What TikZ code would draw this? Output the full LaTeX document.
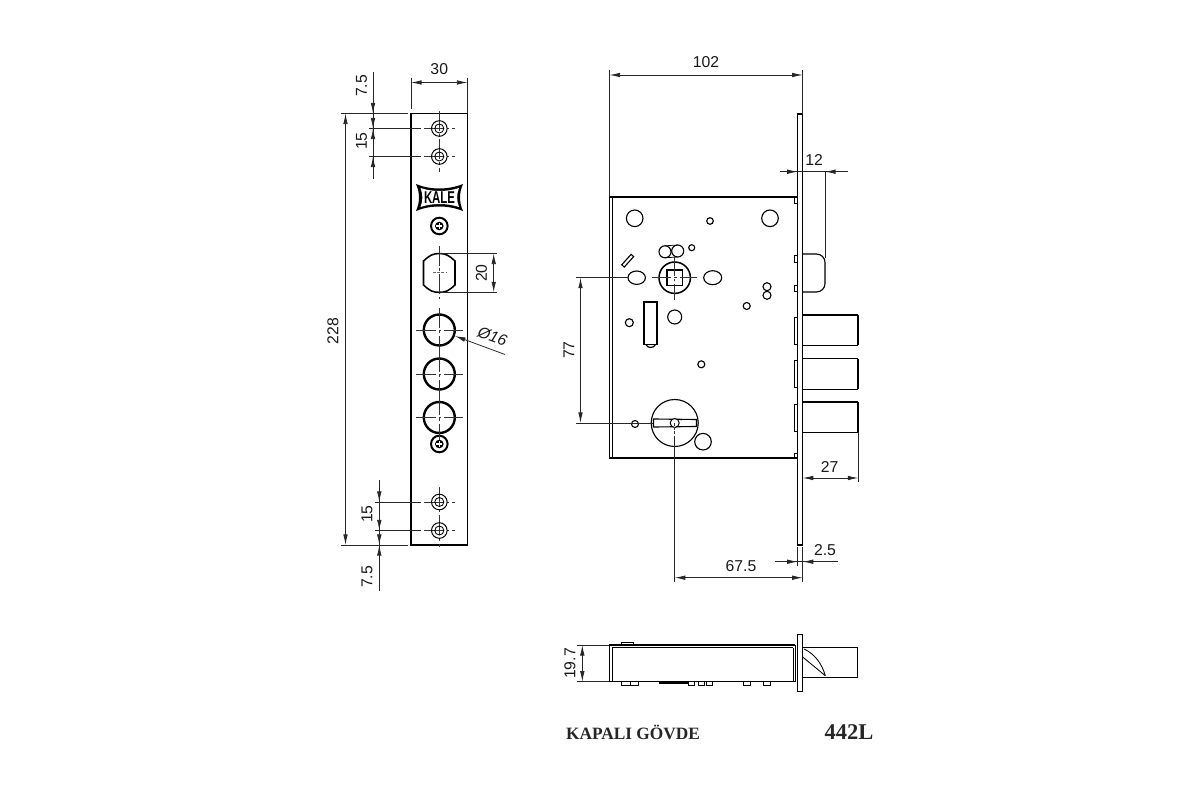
\documentclass[tikz,border=0pt]{standalone}
\usepackage{fontspec}
\setmainfont{Liberation Sans}
\newfontfamily\titlefont{Liberation Serif}
\usetikzlibrary{arrows.meta}
\tikzset{
  dimline/.style={line width=0.55pt,black!85,{Latex[length=7.5pt,width=3.2pt]}-{Latex[length=7.5pt,width=3.2pt]}},
  tipend/.style={line width=0.55pt,black!85,-{Latex[length=7.5pt,width=3.2pt]}},
  extline/.style={line width=0.5pt,black!85},
  centerline/.style={line width=0.4pt,black!80,dash pattern=on 14pt off 2pt on 2pt off 2pt},
  outline/.style={line width=0.8pt,black},
  heavy/.style={line width=1.4pt,black},
  dimtext/.style={font=\fontsize{11.2}{13}\selectfont,inner sep=0pt,text=black!90},
}
\begin{document}
\begin{tikzpicture}[x=0.025cm,y=-0.025cm]
\useasboundingbox (0,0) rectangle (1200,800);

% front plate
\draw[outline] (411,113.5) rectangle (467.5,545);
\draw[extline] (411,78) -- (411,109);
\draw[extline] (467.5,78) -- (467.5,113);
\draw[dimline] (411,82.5) -- (467.5,82.5) node[midway,above=5pt,dimtext] (labwidth) {30};
\draw[extline] (341,113.5) -- (408,113.5);
\draw[extline] (341,545) -- (408,545);
\draw[dimline] (345.5,113.5) -- (345.5,545);
\node[dimtext,rotate=90] (labheight) at (333,331) {228};

% top holes
\foreach \y in {128.5,156.5}
{
\draw[extline] (369,\y) -- (421,\y);
\draw[centerline] (424,\y) -- (455,\y);
\draw[centerline] (439.3,\y-17) -- (439.3,\y+16);
\draw[line width=0.7pt] (439.3,\y) circle (7.8);
\draw[line width=0.6pt] (439.3,\y) circle (4.5);
}
\draw[extline] (373,72) -- (373,179);
\draw[tipend] (373,95) -- (373,113.5);
\draw[tipend] (373,113) -- (373,128.5);
\draw[tipend] (373,145) -- (373,128.5);
\draw[tipend] (373,172) -- (373,156.5);
\node[dimtext,rotate=90] (labtopa) at (361.5,86) {7.5};
\node[dimtext,rotate=90] (labtopb) at (361.5,141) {15};

% bottom holes
\foreach \y in {502,530.5}
{
\draw[extline] (375,\y) -- (421,\y);
\draw[centerline] (424,\y) -- (455,\y);
\draw[centerline] (439.3,\y-15) -- (439.3,\y+16);
\draw[line width=0.7pt] (439.3,\y) circle (7.8);
\draw[line width=0.6pt] (439.3,\y) circle (4.5);
}
\draw[extline] (379.3,480) -- (379.3,590.5);
\draw[tipend] (379.3,486) -- (379.3,502);
\draw[tipend] (379.3,514) -- (379.3,530.5);
\draw[tipend] (379.3,532) -- (379.3,545);
\draw[tipend] (379.3,562) -- (379.3,545);
\node[dimtext,rotate=90] (labbota) at (367,514) {15};
\node[dimtext,rotate=90] (labbotb) at (367,577) {7.5};

% logo
\fill[black] (416,184) .. controls (430,190) and (448,190) .. (463,184)
  .. controls (459,193) and (459,202) .. (463,211)
  .. controls (448,205) and (430,205) .. (416,211)
  .. controls (420,202) and (420,193) .. cycle;
\fill[white] (420.5,188) .. controls (432,192) and (447,192) .. (459,188)
  .. controls (456.5,194) and (456.5,201) .. (459,207)
  .. controls (447,203) and (432,203) .. (420.5,207)
  .. controls (423,201) and (423,194) .. cycle;
\node[inner sep=0pt,font=\fontsize{9}{9}\selectfont\bfseries] (logotext) at (439.5,197.5) {\scalebox{0.9}[1.35]{KALE}};

% screws
\foreach \y in {226,444}
{
\draw[line width=1.4pt] (439.3,\y) circle (8.3);
\fill[black] (439.3,\y) circle (4.3);
\draw[white,line width=0.9pt] (436.3,\y) -- (442.3,\y) (439.3,\y-3) -- (439.3,\y+3);
}

% cylinder hole
\draw[heavy,line width=1.1pt] (423.5,261) .. controls (426,258.5) and (429,256.2) .. (431.5,255)
  .. controls (436,253) and (442.5,253) .. (447,255)
  .. controls (449.5,256.2) and (452.5,258.5) .. (455,261) -- (455,285)
  .. controls (452.5,287.5) and (449.5,289.7) .. (447,291)
  .. controls (442.5,292.8) and (436,292.8) .. (431.5,291)
  .. controls (429,289.7) and (426,287.5) .. (423.5,285) -- cycle;
\draw[centerline] (439.3,246) -- (439.3,300);
\draw[line width=0.3pt,black!60,dash pattern=on 2pt off 1pt] (433,272.5) -- (446,272.5);
\draw[extline] (439.3,253.5) -- (497,253.5);
\draw[extline] (439.3,292.3) -- (497,292.3);
\draw[dimline] (493.7,253.5) -- (493.7,292.3);
\node[dimtext,rotate=90] (labcyl) at (481.5,273) {20};

% round holes
\foreach \y in {330,374,417.5}
{
\draw[heavy,line width=1.7pt] (439.3,\y) circle (15.5);
\draw[centerline] (416,\y) -- (462.5,\y);
\draw[centerline] (439.3,\y-22) -- (439.3,\y+22);
}
\draw[tipend] (505,354.5) -- (455,336);
\node[dimtext,rotate=-20,font=\fontsize{11.2}{13}\selectfont\itshape] (labdia) at (492.5,336) {Ø16};

% side view, case
\draw[outline,line width=1.1pt] (609.5,196.8) rectangle (797.7,458);
\draw[line width=0.8pt] (612.3,196.8) -- (612.3,458);
\draw[outline] (797.7,114) rectangle (802.7,545);
\foreach \a/\b in {197/203,255/262,285/291,453/458,317/344,360/387,404/431}
\draw[line width=0.6pt] (794.3,\a) rectangle (797.7,\b);

% bolts
\foreach \a/\b in {315/345.3,358.7/389.3,402/432.3}
{
\draw[outline] (858.3,\a) -- (802.7,\a) (802.7,\b) -- (858.3,\b);
\draw[heavy] (858.3,\a) -- (858.3,\b);
}
\draw[outline,rounded corners=6pt] (802.7,254) -- (825,254) -- (825,292) -- (802.7,292);

% holes of the case
\foreach \x/\y/\r in {634.7/218.3/8.3,770/218.3/8.3,710/221/3.3,691.7/247.7/3,629.3/322.7/4,674.7/317/7,746.7/306/3.5,701.3/364.3/3.5,635/424/3.5,703/441.7/8.3}
\draw[line width=0.8pt] (\x,\y) circle (\r);
\draw[line width=0.8pt] (665,251.8) circle (6);
\draw[line width=0.8pt] (677.7,251) circle (6);
\draw[line width=0.5pt] (665,245.8) -- (677.7,245) (665,257.8) -- (677.7,257);
\draw[line width=0.8pt] (767,286.7) circle (4);
\draw[line width=0.8pt] (767,295.3) circle (4);
\draw[line width=0.8pt,rotate around={48:(627.7,260.7)}] (620.7,259) rectangle (634.7,262.4);
\draw[line width=0.8pt] (636.7,277.7) ellipse (8.7 and 6.7);
\draw[line width=0.8pt] (712.7,277.7) ellipse (9 and 7);
\draw[line width=1.1pt] (674.7,277.7) circle (15.7);
\draw[line width=0.8pt] (667,270) rectangle (682.4,285.4);
\draw[line width=1.2pt] (644.3,301.7) rectangle (657.3,344.5);
\draw[line width=0.9pt] (646,344.5) .. controls (647,348.5) and (654,348.5) .. (655.5,344.5);
\draw[line width=0.8pt] (674.7,423) circle (23.5);
\draw[line width=0.8pt] (653.5,419) -- (696.5,419.5) -- (696.5,426.5) -- (653.5,427) -- cycle;
\fill[white] (674.7,423) circle (4.5);
\draw[line width=0.7pt] (674.7,423) circle (4.5);
\fill[black] (681,419.5) circle (1);

% side view, dimensions
\draw[extline] (609.5,70) -- (609.5,196.8);
\draw[extline] (802.7,70) -- (802.7,114);
\draw[dimline] (609.5,75) -- (802.7,75) node[midway,above=5pt,dimtext] (lablong) {102};
\draw[extline] (780,171.7) -- (847.7,171.7);
\draw[tipend] (782,171.7) -- (797.7,171.7);
\draw[tipend] (840,171.7) -- (825,171.7);
\draw[extline] (825,171.7) -- (825,258);
\node[dimtext] (lablatch) at (814,160.5) {12};
\draw[extline] (576,277.7) -- (628,277.7);
\draw[centerline] (651.7,277.7) -- (697,277.7);
\draw[centerline] (674.7,256) -- (674.7,300);
\draw[extline] (576,423) -- (653,423);
\draw[dimline] (580.5,277.7) -- (580.5,423);
\node[dimtext,rotate=90] (labcentre) at (569,350) {77};
\draw[centerline,dash pattern=on 2pt off 1pt] (674.7,423) -- (674.7,437);
\draw[extline] (674.7,437) -- (674.7,582);
\draw[extline] (802.7,547) -- (802.7,582);
\draw[dimline] (674.7,577.7) -- (802.7,577.7);
\node[dimtext] (labback) at (741,566) {67.5};
\draw[extline] (797.7,547) -- (797.7,566);
\draw[extline] (775,561.7) -- (838,561.7);
\draw[tipend] (782,561.7) -- (797.7,561.7);
\draw[tipend] (818,561.7) -- (802.7,561.7);
\node[dimtext] (labplate) at (825,550) {2.5};
\draw[extline] (858.3,432.3) -- (858.3,482);
\draw[dimline] (802.7,478) -- (858.3,478);
\node[dimtext] (labthrow) at (829.5,466.5) {27};

% bottom view
\draw[outline] (797.3,634.3) rectangle (802.3,691.7);
\draw[outline] (795,645) -- (609.3,645) -- (609.3,681.7) -- (795,681.7);
\draw[line width=0.5pt] (793,647.7) -- (612.7,647.7) -- (612.7,681.7);
\draw[line width=0.5pt] (793,647.7) -- (793,681.7);
\draw[line width=0.6pt] (795,645) -- (795,681.7);
\draw[outline] (802.3,647.7) -- (857.3,647.7) -- (857.3,677.3) -- (802.3,677.3);
\draw[line width=0.6pt] (804,649) .. controls (815,654) and (822,664) .. (825.3,675.7);
\draw[line width=0.6pt] (802.3,656.7) -- (825.3,675.7);
\draw[line width=0.5pt] (621.7,645) rectangle (633.3,642.3);
\foreach \a/\b in {621.7/630,630/638,688/694.3,698.3/704,706.7/712.7,743.3/750,763.3/770.7}
\draw[line width=0.5pt] (\a,681.7) rectangle (\b,685);
\draw[line width=1pt] (659,683) -- (688,683);
\draw[extline] (577,645) -- (609.3,645);
\draw[extline] (577,681.7) -- (609.3,681.7);
\draw[dimline] (582.3,645) -- (582.3,681.7);
\node[dimtext,rotate=90] (labdepth) at (570,663.5) {19.7};

% titles
\node[inner sep=0pt,font=\titlefont\fontsize{12.3}{14}\selectfont\bfseries,text=black!85] (titlecase) at (633,732.5) {KAPALI GÖVDE};
\node[inner sep=0pt,font=\titlefont\fontsize{16}{18}\selectfont\bfseries,text=black!85] (titlemodel) at (849,732.5) {442L};
\end{tikzpicture}
\end{document}
